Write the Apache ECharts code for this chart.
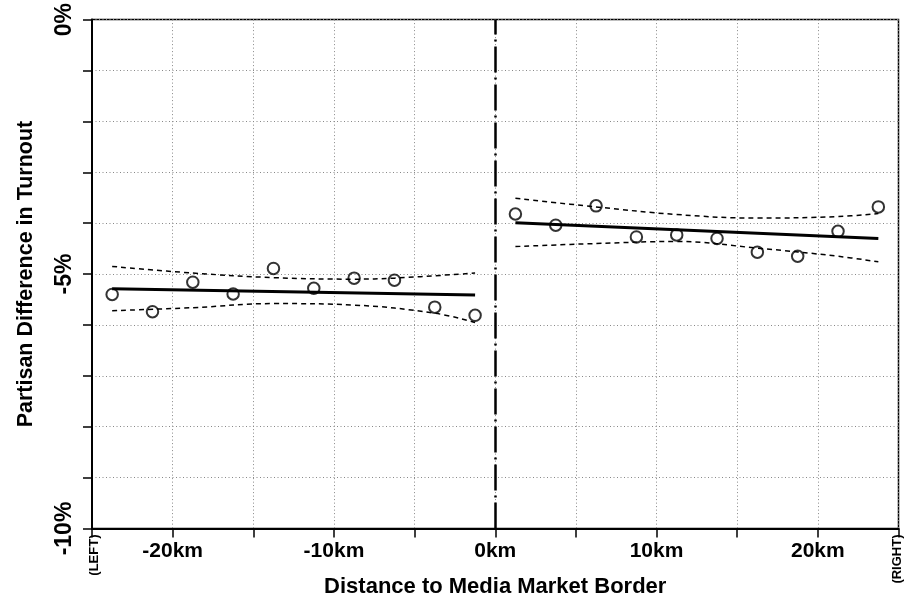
<!DOCTYPE html>
<html>
<head>
<meta charset="utf-8">
<script src="https://cdn.jsdelivr.net/npm/echarts@6/dist/echarts.min.js"></script>
<style>html,body{margin:0;padding:0;background:#fff;}#c{width:912px;height:603px;}</style>
</head>
<body>
<div id="c"></div>
<script>
// ---- data ----
var binsLeft = [-23.75, -21.25, -18.75, -16.25, -13.75, -11.25, -8.75, -6.25, -3.75, -1.25];
var valsLeft = [-5.40, -5.74, -5.16, -5.39, -4.89, -5.28, -5.08, -5.12, -5.65, -5.81];
var binsRight = [1.25, 3.75, 6.25, 8.75, 11.25, 13.75, 16.25, 18.75, 21.25, 23.75];
var valsRight = [-3.82, -4.04, -3.66, -4.27, -4.23, -4.30, -4.57, -4.65, -4.16, -3.68];

var fitLeftX = [-23.75, -1.25];
var fitLeftY = [-5.29, -5.41];
var fitRightX = [1.25, 23.75];
var fitRightY = [-3.99, -4.30];

var ciLeftX = [-23.75, -18.75, -13.75, -8.75, -6.25, -1.25];
var ciLeftUpper = [-4.85, -4.98, -5.07, -5.10, -5.08, -4.98];
var ciLeftLowerX = [-23.75, -18.75, -13.75, -8.75, -3.75, -1.25];
var ciLeftLower = [-5.72, -5.66, -5.58, -5.61, -5.77, -5.95];

var ciRightX = [1.25, 6.25, 11.25, 16.25, 21.25, 23.75];
var ciRightUpper = [-3.51, -3.68, -3.83, -3.90, -3.87, -3.81];
var ciRightLower = [-4.46, -4.40, -4.36, -4.49, -4.65, -4.76];

var xTickLabels = {'-20': '-20km', '-10': '-10km', '0': '0km', '10': '10km', '20': '20km'};
var xEndLabels = {'-25': '(LEFT)', '25': '(RIGHT)'};
var yTickLabels = {'0': '0%', '-5': '-5%', '-10': '-10%'};
var xTitle = 'Distance to Media Market Border';
var yTitle = 'Partisan Difference in Turnout';

function pairs(xs, ys) { return xs.map(function (x, i) { return [x, ys[i]]; }); }

var FONT = 'Liberation Sans, Arial, sans-serif';
var chart = echarts.init(document.getElementById('c'), null, {renderer: 'canvas'});

var ciStyle = {color: '#000', width: 1.5, type: [5, 4]};
function ciSeries(xs, ys) {
  return {type: 'line', data: pairs(xs, ys), symbol: 'none', smooth: 0.4,
          lineStyle: ciStyle, z: 3, silent: true};
}
var gridStyle = {color: '#888', width: 1, type: [1, 2.5]};

chart.setOption({
  animation: false,
  backgroundColor: '#fff',
  grid: {left: 92, right: 13.5, top: 19.5, bottom: 74.5, show: true,
         borderColor: '#000', borderWidth: 1.5, backgroundColor: 'transparent'},
  xAxis: {
    type: 'value', min: -25, max: 25, interval: 5,
    name: xTitle, nameLocation: 'middle', nameGap: 47,
    nameTextStyle: {fontFamily: FONT, fontWeight: 'bold', fontSize: 22, color: '#000'},
    axisLine: {show: true, onZero: false, lineStyle: {color: '#000', width: 2}},
    axisTick: {show: true, length: 9, lineStyle: {color: '#000', width: 1.5}},
    axisLabel: {
      margin: 12, color: '#000', fontFamily: FONT, fontWeight: 'bold', fontSize: 21,
      showMinLabel: true, showMaxLabel: true,
      formatter: function (v) { return xTickLabels[String(v)] || ''; }
    },
    splitLine: {show: true, lineStyle: gridStyle}
  },
  yAxis: {
    type: 'value', min: -10, max: 0, interval: 1,
    name: yTitle, nameLocation: 'middle', nameGap: 55, nameRotate: 90,
    nameTextStyle: {fontFamily: FONT, fontWeight: 'bold', fontSize: 21.5, color: '#000'},
    axisLine: {show: true, onZero: false, lineStyle: {color: '#000', width: 2}},
    axisTick: {show: true, length: 9, lineStyle: {color: '#000', width: 1.5}},
    axisLabel: {
      margin: 16, rotate: 90, color: '#000', fontFamily: FONT, fontWeight: 'bold', fontSize: 23,
      showMinLabel: true, showMaxLabel: true,
      formatter: function (v) { return yTickLabels[String(v)] || ''; }
    },
    splitLine: {show: true, lineStyle: gridStyle}
  },
  series: [
    {type: 'line', data: [], markLine: {
      silent: true, symbol: 'none', label: {show: false},
      lineStyle: {color: '#000', width: 2.5, type: [26, 5, 2, 5]},
      data: [{xAxis: 0}]
    }},
    ciSeries(ciLeftX, ciLeftUpper),
    ciSeries(ciLeftLowerX, ciLeftLower),
    ciSeries(ciRightX, ciRightUpper),
    ciSeries(ciRightX, ciRightLower),
    {type: 'line', data: pairs(fitLeftX, fitLeftY), symbol: 'none',
     lineStyle: {color: '#000', width: 3}, z: 4},
    {type: 'line', data: pairs(fitRightX, fitRightY), symbol: 'none',
     lineStyle: {color: '#000', width: 3}, z: 4},
    {type: 'scatter', data: pairs(binsLeft, valsLeft).concat(pairs(binsRight, valsRight)),
     symbol: 'circle', symbolSize: 11.5, z: 5,
     itemStyle: {color: 'rgba(0,0,0,0)', borderColor: '#000', borderWidth: 2}}
  ]
});

// rotated end labels (LEFT)/(RIGHT) placed via the axis scale
var bottomY = chart.convertToPixel({yAxisIndex: 0}, -10);
var gfx = Object.keys(xEndLabels).map(function (k) {
  var px = chart.convertToPixel({xAxisIndex: 0}, Number(k));
  return {
    type: 'text', x: px + (Number(k) < 0 ? 2 : -1), y: bottomY + 6, rotation: Math.PI / 2,
    style: {text: xEndLabels[k], fontFamily: FONT, fontWeight: 'bold', fontSize: 13,
            fill: '#000', align: 'right', verticalAlign: 'middle'}
  };
});
chart.setOption({graphic: gfx});
</script>
</body>
</html>
